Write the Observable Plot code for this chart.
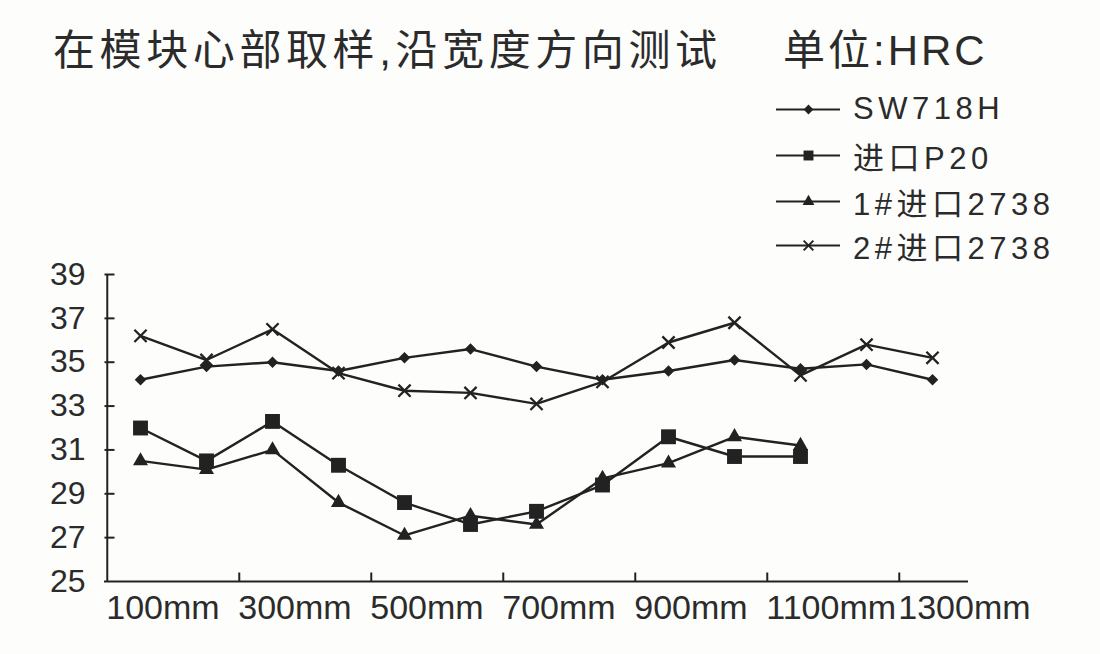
<!DOCTYPE html>
<html>
<head>
<meta charset="utf-8">
<script src="https://cdn.jsdelivr.net/npm/d3@7"></script>
<script src="https://cdn.jsdelivr.net/npm/@observablehq/plot@0.6"></script>
<style>
  html, body { margin: 0; padding: 0; background: #fdfdfb; }
  #wrap { position: relative; width: 1100px; height: 654px; overflow: hidden;
          font-family: "Liberation Sans", "Noto Sans CJK SC", sans-serif; color: #2b2b2b; }
  #title { position: absolute; left: 53px; top: 16px; font-size: 42px; letter-spacing: 4.6px; white-space: nowrap; }
  #unit { position: absolute; left: 783px; top: 16px; font-size: 42px; letter-spacing: 3px; white-space: nowrap; }
  .leg { position: absolute; left: 776px; height: 40px; display: flex; align-items: center; white-space: nowrap;
         font-size: 31px; letter-spacing: 4.5px; }
  .leg svg { width: 64px; height: 24px; margin-right: 13px; }
  #chart { position: absolute; left: 0; top: 0; }
</style>
</head>
<body>
<div id="wrap">
  <div id="chart"></div>
  <div id="title"></div>
  <div id="unit"></div>
  <div id="legend"></div>
</div>
<script>
// ---- data ----
const titleText = "在模块心部取样,沿宽度方向测试";
const unitText = "单位:HRC";
const categories = ["100mm","200mm","300mm","400mm","500mm","600mm","700mm","800mm","900mm","1000mm","1100mm","1200mm","1300mm"];
const tickLabels = ["100mm","300mm","500mm","700mm","900mm","1100mm","1300mm"];
const yTicks = [25, 27, 29, 31, 33, 35, 37, 39];
const seriesNames = ["SW718H", "进口P20", "1#进口2738", "2#进口2738"];
const sw718h = [34.2, 34.8, 35.0, 34.6, 35.2, 35.6, 34.8, 34.2, 34.6, 35.1, 34.7, 34.9, 34.2];
const p20 = [32.0, 30.5, 32.3, 30.3, 28.6, 27.6, 28.2, 29.4, 31.6, 30.7, 30.7];
const imp2738a = [30.5, 30.1, 31.0, 28.6, 27.1, 28.0, 27.6, 29.7, 30.4, 31.6, 31.2];
const imp2738b = [36.2, 35.1, 36.5, 34.5, 33.7, 33.6, 33.1, 34.1, 35.9, 36.8, 34.4, 35.8, 35.2];

// ---- build ----
const ink = "#222";
const seriesValues = [sw718h, p20, imp2738a, imp2738b];
const symbols = ["diamond2", "square", "triangle", "times"];
const radii = [5.2, 8.4, 5.6, 5.6];
const rows = seriesValues.map((vals, s) =>
  vals.map((v, i) => ({series: seriesNames[s], c: categories[i], v}))
);

const mL = 104, mR = 132, W = 1100;
const step = (W - mL - mR) / categories.length;

const tickRight = {draw(ctx) { ctx.moveTo(0, 0); ctx.lineTo(10, 0); }};
const tickUp = {draw(ctx) { ctx.moveTo(0, 0); ctx.lineTo(0, -9); }};

const marks = [
  Plot.ruleY([25], {stroke: ink, strokeWidth: 2}),
  Plot.ruleX([categories[0]], {dx: -step / 2, stroke: ink, strokeWidth: 2}),
  Plot.dot(yTicks.slice(1), {y: d => d, frameAnchor: "left", symbol: tickRight, fill: "none", stroke: ink, strokeWidth: 2}),
  Plot.dot(tickLabels.slice(1), {x: d => d, frameAnchor: "bottom", dx: -step / 2, symbol: tickUp, fill: "none", stroke: ink, strokeWidth: 2}),
  Plot.axisY({ticks: yTicks, tickSize: 0, tickPadding: 19, fontSize: 32, label: null, tickFormat: d => String(d)}),
  Plot.text(tickLabels, {x: d => d, text: d => d, frameAnchor: "bottom", dx: -step / 2 - 1, dy: 27,
    textAnchor: "start", lineAnchor: "middle", fontSize: 34, fill: "#2b2b2b"})
];
rows.forEach((data, s) => {
  marks.push(Plot.line(data, {x: "c", y: "v", stroke: ink, strokeWidth: 2.4}));
});
rows.forEach((data, s) => {
  const isStroke = symbols[s] === "times";
  marks.push(Plot.dot(data, {x: "c", y: "v", symbol: symbols[s], r: radii[s],
    fill: isStroke ? "none" : ink, stroke: isStroke ? ink : "none", strokeWidth: isStroke ? 2.3 : 0}));
});

const chart = Plot.plot({
  width: W, height: 654,
  marginTop: 274, marginBottom: 73, marginLeft: mL, marginRight: mR,
  style: {background: "transparent", fontFamily: "'Liberation Sans', 'Noto Sans CJK SC', sans-serif", color: "#2b2b2b"},
  x: {type: "point", domain: categories, padding: 0.5, axis: null},
  y: {domain: [25, 39]},
  marks
});
document.getElementById("chart").appendChild(chart);
document.getElementById("title").textContent = titleText;
document.getElementById("unit").textContent = unitText;

// legend
const legendTop = [89, 135, 181, 225];
const legend = document.getElementById("legend");
seriesNames.forEach((name, s) => {
  const row = document.createElement("div");
  row.className = "leg";
  row.style.top = legendTop[s] + "px";
  const sym = Plot.plot({
    width: 64, height: 24, margin: 0,
    x: {domain: [0, 1], axis: null}, y: {domain: [0, 1], axis: null},
    style: {background: "transparent"},
    marks: [
      Plot.ruleY([0.5], {stroke: ink, strokeWidth: 2}),
      Plot.dot([{x: 0.5, y: 0.5}], {x: "x", y: "y", symbol: symbols[s],
        r: symbols[s] === "square" ? 5.6 : (symbols[s] === "times" ? 4.5 : 4.4),
        fill: symbols[s] === "times" ? "none" : ink, stroke: symbols[s] === "times" ? ink : "none", strokeWidth: 2})
    ]
  });
  row.appendChild(sym);
  const t = document.createElement("span");
  t.textContent = name;
  row.appendChild(t);
  legend.appendChild(row);
});
</script>
</body>
</html>
